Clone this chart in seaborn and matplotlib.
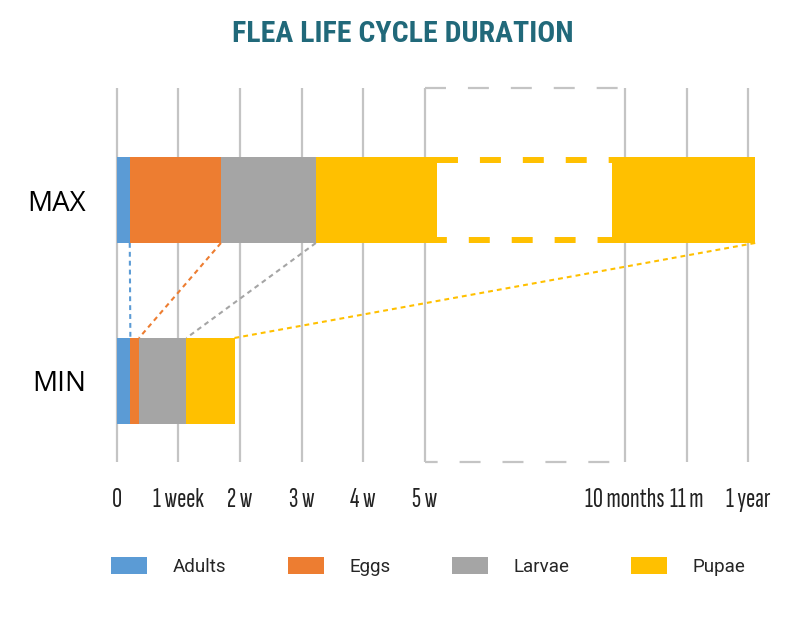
import numpy as np
import pandas as pd
import seaborn as sns
import matplotlib.pyplot as plt
from matplotlib.patches import Rectangle

# 눈금 단위 데이터 (0~5 = 주, 8.25 이후 = 월 / 축이 중간에서 끊김)
rows = ['MAX', 'MIN']
stages = ['Adults', 'Eggs', 'Larvae', 'Pupae']
max_durations = [0.21, 1.48, 1.54, 7.13]
min_durations = [0.22, 0.14, 0.77, 0.78]
tick_pos = [0, 1, 2, 3, 4, 5, 8.25, 9.25, 10.25]
tick_labels = ['0', '1 week', '2 w', '3 w', '4 w', '5 w', '10 months', '11 m', '1 year']
colors = ['#5B9BD5', '#ED7D31', '#A5A5A5', '#FFC000']

# 끊긴 구간 (축 / 막대)
axis_break = (5, 8.25)
bar_break = (5.19, 8.03)

sns.set_style('white')
plt.rcParams['lines.scale_dashes'] = False
tick_font = ['Sofia Sans Extra Condensed', 'Saira ExtraCondensed', 'Fira Sans Extra Condensed',
             'Roboto Condensed', 'DejaVu Sans']
title_font = ['Roboto Condensed', 'Archivo Narrow', 'DejaVu Sans']

# 누적합으로 쌓기
max_end = np.cumsum(max_durations)
min_end = np.cumsum(min_durations)
df = pd.DataFrame({
    'row': ['MAX'] * 4 + ['MIN'] * 4,
    'stage': stages * 2,
    'end': list(max_end) + list(min_end),
})

fig = plt.figure(figsize=(8, 6.4), dpi=100)
ax = fig.add_axes([86 / 800, 1 - 462 / 640, (770 - 86) / 800, (462 - 88) / 640])

bar_w = 0.475
for stage, color in reversed(list(zip(stages, colors))):
    sub = df[df['stage'] == stage]
    sns.barplot(data=sub, x='end', y='row', order=rows, color=color, saturation=1,
                width=bar_w, orient='h', ax=ax, label=stage, linewidth=0)

ax.set_xlim(-0.5, 10.6)
ax.set_ylim(1.448, -0.619)

# 세로 그리드
for p in tick_pos:
    ax.axvline(p, color='#C4C4C4', lw=1.6, zorder=0.5)

# 회색 점선 박스 (축 끊김)
for y, off in [(-0.619, 0), (1.448, 6)]:
    ax.plot(axis_break, [y, y], color='#C4C4C4', lw=1.6, clip_on=False,
            ls=(off, (15.1, 15.8)), zorder=0.5)

# 막대 끊김: 흰 사각형 + 노란 점선
ax.add_patch(Rectangle((bar_break[0], -bar_w / 2), bar_break[1] - bar_break[0], bar_w,
                       facecolor='white', edgecolor='none', zorder=3))
for y, off in [(-0.221, 0), (0.221, 8)]:
    ax.plot(bar_break, [y, y], color=colors[3], lw=4.3, ls=(off, (15.1, 15.8)),
            zorder=4, solid_capstyle='butt', dash_capstyle='butt')

# 연결 점선
for i in range(4):
    ax.plot([max_end[i], min_end[i]], [bar_w / 2, 1 - bar_w / 2], color=colors[i],
            lw=1.5, ls=(0, (3.5, 2.9)), zorder=2)

ax.set_xticks(tick_pos, tick_labels)
ax.set_yticks([0, 1], rows)
ax.set_xlabel('')
ax.set_ylabel('')
ax.tick_params(axis='x', length=0, pad=19, labelsize=20)
ax.tick_params(axis='y', length=0, pad=0, labelsize=20)
for lab in ax.get_xticklabels():
    lab.set_family(tick_font)
    lab.set_weight(300)
    lab.set_color('#222222')
for lab in ax.get_yticklabels():
    lab.set_family(['Open Sans', 'DejaVu Sans'])
    lab.set_color('black')
for s in ax.spines.values():
    s.set_visible(False)
if ax.get_legend():
    ax.get_legend().remove()

fig.text(0.503, 1 - 34 / 640, 'FLEA LIFE CYCLE DURATION', ha='center', va='center',
         fontsize=21.5, weight='bold', color='#21697A', family=title_font)

handles, labels = ax.get_legend_handles_labels()
hmap = dict(zip(labels, handles))
fig.legend([hmap[s] for s in stages], stages, loc='upper left',
           bbox_to_anchor=(111 / 800, 1 - 557 / 640), ncol=4, frameon=False,
           prop={'family': 'Roboto', 'size': 13.5}, handlelength=1.92, handleheight=1.0,
           handletextpad=1.39, columnspacing=3.25, borderpad=0, borderaxespad=0)

fig.savefig('out.png', dpi=100)
